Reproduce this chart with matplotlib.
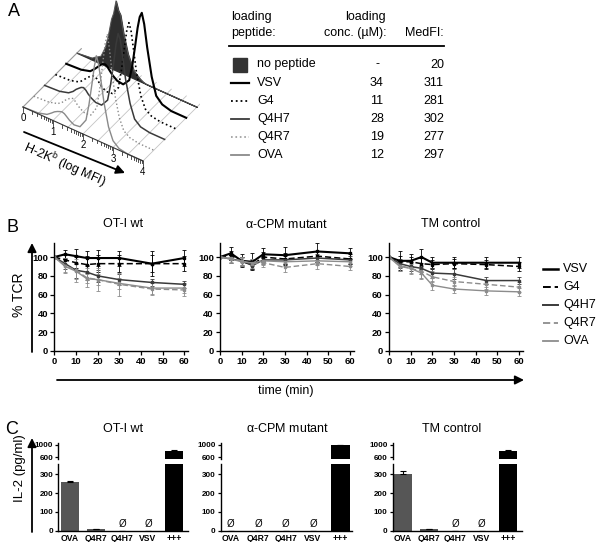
import numpy as np
import matplotlib.pyplot as plt
from matplotlib.transforms import Affine2D

plt.rcParams['font.family'] = ['Liberation Sans', 'DejaVu Sans']
NARROW = ['Liberation Sans Narrow', 'Liberation Sans', 'DejaVu Sans']

# --- panel A: stacked H-2Kb histograms (front row first) + loading table
hist_logs = [0.0, 0.5, 0.8, 0.95, 1.05, 1.15, 1.22, 1.3, 1.38, 1.45, 1.55, 1.7, 1.9,
             2.1, 2.2, 2.3, 2.38, 2.45, 2.52, 2.6, 2.7, 2.85, 3.0, 3.2, 3.5, 4.0]
hist_ova = [0, 1, 4, 8, 11, 13, 14, 15, 14, 12, 9, 6, 7, 18, 38, 64, 86, 99, 90, 72, 48, 22, 8, 2, 0, 0]
hist_q4r7 = [0, 1, 4, 8, 12, 15, 17, 18, 16, 13, 10, 7, 8, 20, 44, 76, 100, 112, 96, 72, 45, 20, 7, 2, 0, 0]
hist_q4h7 = [0, 1, 4, 8, 12, 15, 17, 18, 16, 13, 10, 7, 7, 16, 36, 62, 86, 100, 94, 76, 50, 24, 8, 2, 0, 0]
hist_g4 = [0, 1, 4, 9, 13, 16, 18, 19, 17, 14, 10, 7, 8, 18, 40, 68, 90, 100, 92, 72, 46, 20, 7, 2, 0, 0]
hist_vsv = [0, 1, 4, 9, 13, 17, 19, 20, 18, 15, 11, 7, 6, 14, 32, 58, 80, 94, 100, 88, 62, 30, 10, 3, 0, 0]
hist_nopep = [0, 2, 9, 22, 38, 58, 66, 82, 72, 68, 48, 26, 9, 3, 1, 0, 0, 0, 0, 0, 0, 0, 0, 0, 0, 0]

table_peptides = ['no peptide', 'VSV', 'G4', 'Q4H7', 'Q4R7', 'OVA']
table_conc = ['-', '34', '11', '28', '19', '12']
table_medfi = ['20', '311', '281', '302', '277', '297']

# --- panel B: % TCR over time, order VSV, G4, Q4H7, Q4R7, OVA
times = [0, 5, 10, 15, 20, 30, 45, 60]
tcr_labels = ['VSV', 'G4', 'Q4H7', 'Q4R7', 'OVA']
tcr_wt = [[100, 103, 101, 99, 99, 99, 93, 99],
          [100, 97, 94, 92, 93, 93, 93, 93],
          [100, 93, 86, 84, 80, 76, 73, 71],
          [100, 91, 86, 78, 76, 71, 66, 65],
          [100, 90, 85, 77, 76, 72, 67, 67]]
err_wt = [[0, 5, 8, 8, 9, 8, 13, 9],
          [0, 5, 6, 9, 9, 9, 9, 8],
          [0, 6, 8, 8, 6, 6, 4, 4],
          [0, 8, 12, 10, 12, 12, 6, 6],
          [0, 6, 8, 5, 6, 6, 6, 5]]
tcr_cpm = [[100, 104, 96, 95, 103, 102, 106, 104],
           [100, 102, 95, 92, 100, 98, 101, 98],
           [100, 98, 96, 91, 97, 97, 99, 97],
           [100, 99, 96, 93, 94, 89, 93, 90],
           [100, 98, 95, 94, 96, 95, 96, 95]]
err_cpm = [[0, 7, 7, 9, 7, 9, 9, 6],
           [0, 5, 5, 5, 5, 6, 6, 5],
           [0, 4, 4, 4, 4, 4, 4, 4],
           [0, 4, 4, 5, 5, 5, 6, 4],
           [0, 4, 4, 4, 4, 4, 4, 4]]
tcr_tm = [[100, 96, 96, 100, 94, 94, 94, 94],
          [100, 95, 95, 93, 92, 93, 92, 90],
          [100, 93, 90, 88, 83, 82, 75, 75],
          [100, 91, 88, 85, 79, 74, 71, 68],
          [100, 90, 88, 83, 70, 66, 64, 63]]
err_tm = [[0, 10, 7, 9, 6, 6, 6, 6],
          [0, 6, 5, 6, 5, 5, 5, 5],
          [0, 5, 5, 6, 5, 5, 4, 4],
          [0, 6, 6, 7, 6, 5, 5, 5],
          [0, 5, 5, 6, 5, 4, 4, 4]]

# --- panel C: IL-2 (pg/ml), nan = not detected
il2_labels = ['OVA', 'Q4R7', 'Q4H7', 'VSV', '+++']
il2_wt = [258, 7, np.nan, np.nan, 820]
il2_wt_err = [8, 2, 0, 0, 12]
il2_cpm = [np.nan, np.nan, np.nan, np.nan, 1000]
il2_cpm_err = [0, 0, 0, 0, 10]
il2_tm = [300, 7, np.nan, np.nan, 820]
il2_tm_err = [18, 2, 0, 0, 10]

W, H = 600, 542
fig = plt.figure(figsize=(6, 5.42), dpi=100)


def px_axes(left, top, width, height):
    return fig.add_axes([left / W, 1 - (top + height) / H, width / W, height / H])


# ---------------- panel A: waterfall ----------------
axA = px_axes(0, 0, 200, 200)
axA.set_xlim(0, 200)
axA.set_ylim(200, 0)
axA.axis('off')


def row_tf(r):
    # (log MFI, count) -> pixel position for histogram row r
    return Affine2D().from_values(30, 13.5, 0, -0.85, 23 + 10.8 * r, 107 - 10.8 * r) + axA.transData


floor_tf = Affine2D().from_values(30, 13.5, 10.8, -10.8, 23, 107) + axA.transData

for g in np.arange(0, 4.01, 0.5):
    axA.plot([g, g], [0, 5.4], color='#c4c4c4', lw=0.6, transform=floor_tf, zorder=1)
axA.plot([0, 0], [0, 5.4], color='#999999', lw=0.7, transform=floor_tf, zorder=1)

rows = [(hist_ova, '#8a8a8a', '-', 1.0),
        (hist_q4r7, '#8a8a8a', ':', 1.0),
        (hist_q4h7, '#3a3a3a', '-', 1.1),
        (hist_g4, 'black', ':', 1.2),
        (hist_vsv, 'black', '-', 1.5)]
axA.fill_between(hist_logs, 0, hist_nopep, color='#2e2e2e', lw=0.8,
                 transform=row_tf(5), zorder=2)
axA.plot(hist_logs, hist_nopep, color='#555555', lw=0.7, transform=row_tf(5), zorder=2)
for r in range(4, -1, -1):
    vals, col, ls, lw = rows[r]
    axA.plot(hist_logs, vals, color=col, ls=ls, lw=lw, transform=row_tf(r), zorder=3 + (5 - r))

# front log axis with ticks
axA.plot([0, 4], [0, 0], color='#333333', lw=0.8, transform=row_tf(0), zorder=9)
for d in range(4):
    for k in range(1, 10):
        lg = d + np.log10(k)
        ln = 6 if k == 1 else 3.5
        axA.plot([lg, lg], [0, -ln], color='#333333', lw=0.6, transform=row_tf(0), zorder=9)
axA.plot([4, 4], [0, -6], color='#333333', lw=0.6, transform=row_tf(0), zorder=9)
for d in range(5):
    axA.text(d, -13, str(d), transform=row_tf(0), ha='center', va='center', fontsize=7)

# ---------------- overlay for texts, arrows, table ----------------
ov = fig.add_axes([0, 0, 1, 1])
ov.set_xlim(0, W)
ov.set_ylim(H, 0)
ov.axis('off')
ov.patch.set_alpha(0)

arrow_kw = dict(arrowstyle='-|>', color='black', lw=1.3, mutation_scale=13, shrinkA=0, shrinkB=0)
ov.annotate('', xy=(125, 173), xytext=(24, 132), arrowprops=arrow_kw)
ov.text(64, 165, 'H-2K$^{\\mathregular{b}}$ (log MFI)', rotation=-24, ha='center', va='center',
        fontsize=9, rotation_mode='anchor')

ov.text(8, 12, 'A', fontsize=13, ha='left', va='center')
ov.text(6, 228, 'B', fontsize=13, ha='left', va='center')
ov.text(5, 430, 'C', fontsize=13, ha='left', va='center')

# table
fs = 9
ov.text(231, 17, 'loading', fontsize=fs, ha='left', va='center')
ov.text(231, 33, 'peptide:', fontsize=fs, ha='left', va='center')
ov.text(386, 17, 'loading', fontsize=fs, ha='right', va='center')
ov.text(386, 33, 'conc. (µM):', fontsize=fs, ha='right', va='center')
ov.text(444, 33, 'MedFI:', fontsize=fs, ha='right', va='center')
ov.plot([229, 444], [46, 46], color='black', lw=1.3)
row_y = [64.5, 82.7, 100.7, 119.3, 137.3, 155]
sym = [None, ('black', '-', 1.6), ('black', ':', 1.3), ('#3a3a3a', '-', 1.3),
       ('#9a9a9a', ':', 1.2), ('#8a8a8a', '-', 1.3)]
for i, y in enumerate(row_y):
    if sym[i] is None:
        ov.add_patch(plt.Rectangle((232.5, y - 7), 14.5, 14.5, color='#333333'))
    else:
        c, ls, lw = sym[i]
        ov.plot([231, 249], [y, y], color=c, ls=ls, lw=lw)
    ov.text(257, y, table_peptides[i], fontsize=fs, ha='left', va='center')
    ov.text(377, y, table_conc[i], fontsize=fs, ha='center', va='center')
    ov.text(444, y, table_medfi[i], fontsize=fs, ha='right', va='center')

# ---------------- panel B ----------------
line_styles = [dict(color='black', ls='-', lw=1.5),
               dict(color='black', ls=(0, (4, 2)), lw=1.1),
               dict(color='#3a3a3a', ls='-', lw=1.1),
               dict(color='#8c8c8c', ls=(0, (4, 2)), lw=1.0),
               dict(color='#8c8c8c', ls='-', lw=1.0)]
b_sets = [(54.3, tcr_wt, err_wt, 'OT-I wt', 123),
          (220, tcr_cpm, err_cpm, r'$\mathregular{\alpha}$-CPM mutant', 286),
          (389, tcr_tm, err_tm, 'TM control', 451)]
for left, data, errs, title, tx in b_sets:
    ax = px_axes(left, 243, 134, 108)
    for vals, e, st in zip(data, errs, line_styles):
        ax.errorbar(times, vals, yerr=e, color=st['color'], ls=st['ls'], lw=st['lw'],
                    marker='s', ms=1.8, capsize=1.5, elinewidth=0.6, capthick=0.6)
    ax.set_xlim(0, 61.85)
    ax.set_ylim(0, 115)
    ax.set_xticks(range(0, 61, 10))
    ax.set_yticks(range(0, 101, 20))
    for s in ['top', 'right']:
        ax.spines[s].set_visible(False)
    for s in ['left', 'bottom']:
        ax.spines[s].set_linewidth(1.0)
    ax.tick_params(direction='out', length=3, width=0.9, pad=1.5)
    for lab in ax.get_xticklabels() + ax.get_yticklabels():
        lab.set_family(NARROW)
        lab.set_fontsize(6.8)
        lab.set_fontweight('bold')
    ax.patch.set_alpha(0)
    ov.text(tx, 224, title, fontsize=9, ha='center', va='center')

ov.text(19, 295, '% TCR', rotation=90, fontsize=10, ha='center', va='center')
ov.annotate('', xy=(32, 243), xytext=(32, 352), arrowprops=arrow_kw)
ov.annotate('', xy=(524, 380), xytext=(57, 380), arrowprops=arrow_kw)
ov.text(286, 391, 'time (min)', fontsize=9, ha='center', va='center')

leg_y = [269, 287, 305, 323, 341]
for lab, st, y in zip(tcr_labels, line_styles, leg_y):
    ov.plot([543, 558], [y, y], color=st['color'], ls=st['ls'], lw=st['lw'] + 0.3)
    ov.text(563, y, lab, fontsize=9, ha='left', va='center')

# ---------------- panel C ----------------
bar_colors = ['#565656', '#565656', '#565656', '#565656', 'black']
c_sets = [(58.3, (-0.45, 4.54), 129.7, il2_wt, il2_wt_err, 'OT-I wt', 123),
          (220.7, (-0.36, 4.41), 131.0, il2_cpm, il2_cpm_err, r'$\mathregular{\alpha}$-CPM mutant', 287),
          (392.7, (-0.39, 4.52), 129.0, il2_tm, il2_tm_err, 'TM control', 452)]
xs = np.arange(len(il2_labels))
for left, xl, wpx, vals, errs, title, tx in c_sets:
    lo = px_axes(left, 464.3, wpx, 66.5)
    hi = px_axes(left, 443.4, wpx, 15.6)
    v = np.array(vals, dtype=float)
    for ax in (lo, hi):
        ax.bar(xs, np.nan_to_num(v), width=0.7, color=bar_colors, zorder=2)
        ax.errorbar(xs, np.nan_to_num(v), yerr=[np.zeros(5), errs], fmt='none',
                    ecolor='black', elinewidth=0.8, capsize=2.5, capthick=0.8, zorder=3)
        ax.set_xlim(*xl)
        ax.patch.set_alpha(0)
        for s in ['top', 'right']:
            ax.spines[s].set_visible(False)
        ax.spines['left'].set_linewidth(1.0)
        ax.tick_params(direction='out', length=2.5, width=0.9, pad=1.2)
    lo.set_ylim(0, 352)
    lo.set_yticks([0, 100, 200, 300])
    lo.set_xticks(xs)
    lo.set_xticklabels(il2_labels)
    lo.spines['bottom'].set_linewidth(1.0)
    lo.tick_params(axis='x', length=0, pad=2)
    hi.set_ylim(545, 1050)
    hi.set_yticks([600, 1000])
    hi.spines['bottom'].set_visible(False)
    hi.set_xticks([])
    for ax in (lo, hi):
        for lab in ax.get_yticklabels():
            lab.set_family(NARROW)
            lab.set_fontsize(5.8)
            lab.set_fontweight('bold')
        for lab in ax.get_xticklabels():
            lab.set_family(NARROW)
            lab.set_fontsize(6.2)
            lab.set_fontweight('bold')
    for x, val in zip(xs, v):
        if np.isnan(val):
            lo.text(x, 36, 'Ø', ha='center', va='center', fontsize=7)
    ov.text(tx, 429, title, fontsize=9, ha='center', va='center')

ov.text(20, 468, 'IL-2 (pg/ml)', rotation=90, fontsize=9.5, ha='center', va='center')
ov.annotate('', xy=(32, 438), xytext=(32, 532), arrowprops=arrow_kw)

fig.savefig('out.png', dpi=100)
